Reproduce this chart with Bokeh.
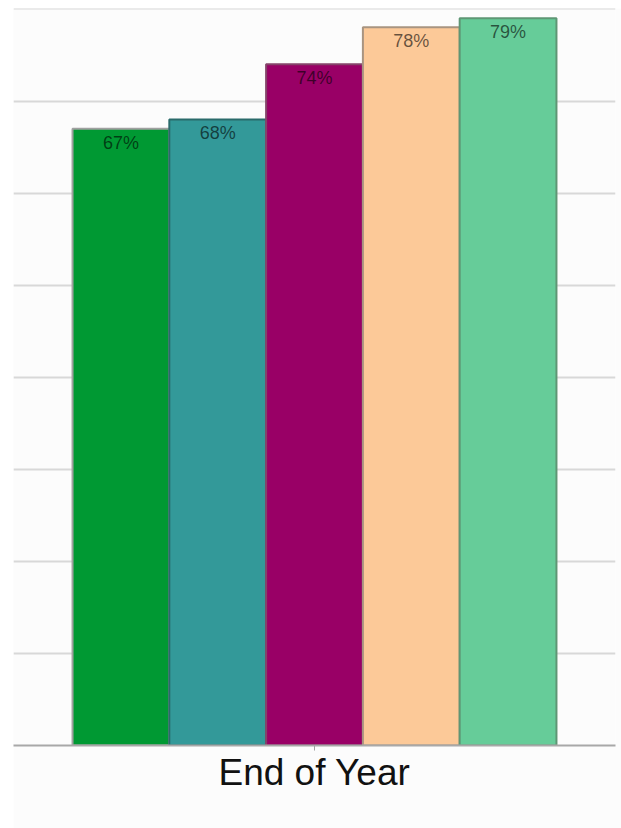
from bokeh.plotting import figure
from bokeh.models import ColumnDataSource, Range1d, FixedTicker
from bokeh.core.properties import value
from bokeh.embed import file_html
from bokeh.resources import INLINE

category = "End of Year"
series = ["S1", "S2", "S3", "S4", "S5"]
values = [67, 68, 74, 78, 79]
labels = ["67%", "68%", "74%", "78%", "79%"]
colors = ["#009933", "#339999", "#990066", "#fcc998", "#66cc99"]
outlines = ["#a0a0a0", "#2a6b6b", "#85446a", "#a89480", "#5e9674"]
y_ticks = [0, 10, 20, 30, 40, 50, 60, 70, 80]

xs = list(range(len(values)))
src = ColumnDataSource(dict(x=xs, top=values, label=labels, color=colors, outline=outlines))

p = figure(width=608, height=820, output_backend="svg", toolbar_location=None,
           x_range=Range1d(-1.11, 5.11), y_range=Range1d(0, 80.05),
           y_axis_location=None, min_border_top=0, min_border_left=0,
           min_border_right=6, min_border_bottom=83)
p.margin = (8, 0, 0, 13)
p.background_fill_color = "#fcfcfc"
p.border_fill_color = "#fcfcfc"
p.outline_line_color = None

p.xgrid.visible = False
p.ygrid.ticker = FixedTicker(ticks=y_ticks)
p.ygrid.grid_line_color = "#d8d8d8"
p.ygrid.grid_line_width = 2

p.vbar(x="x", top="top", bottom=0, width=1.0, source=src,
       fill_color="color", line_color="outline", line_width=2)

p.text(x="x", y="top", text="label", source=src, text_align="center",
       text_baseline="top", y_offset=4, text_font=value("Liberation Sans"),
       text_font_size="18px", text_color="black", text_alpha=0.6)

center = (len(values) - 1) / 2
p.xaxis.ticker = FixedTicker(ticks=[center])
p.xaxis.major_label_overrides = {center: category}
p.xaxis.major_label_text_font = "Liberation Sans"
p.xaxis.major_label_text_font_size = "37px"
p.xaxis.major_label_text_color = "#111111"
p.xaxis.major_label_standoff = 1
p.xaxis.axis_line_color = "#a8a8a8"
p.xaxis.axis_line_width = 2
p.xaxis.major_tick_line_color = "#a0a0a0"
p.xaxis.major_tick_in = 0
p.xaxis.major_tick_out = 5
p.xaxis.minor_tick_line_color = None

open("out.html", "w").write(file_html(p, INLINE))
